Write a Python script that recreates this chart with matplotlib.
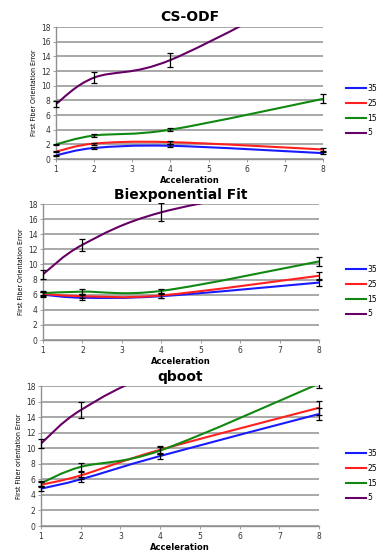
import numpy as np
import matplotlib
matplotlib.use('Agg')
import matplotlib.pyplot as plt
from matplotlib.path import Path
from matplotlib.patches import PathPatch, Rectangle
from matplotlib.lines import Line2D

accel = [1, 2, 4, 8]
snr_labels = ['35', '25', '15', '5']
colors = ['#1a1aff', '#ff2020', '#118811', '#660066']

titles = ['CS-ODF', 'Biexponential Fit', 'qboot']
ylabels = ['First Fiber Orientation Error', 'First Fiber Orientation Error',
           'First Fiber orientation Error']

# mean error per SNR (rows) at each acceleration
csodf = [[0.5, 1.5, 1.8, 0.8],
         [1.0, 2.1, 2.3, 1.3],
         [2.0, 3.2, 4.0, 8.2],
         [7.5, 11.1, 13.5, 24.0]]
csodf_err = [[0.1, 0.15, 0.2, 0.1],
             [0.1, 0.15, 0.2, 0.15],
             [0.1, 0.15, 0.2, 0.6],
             [0.4, 0.8, 1.0, 1.0]]

biexp = [[6.0, 5.6, 5.8, 7.6],
         [6.1, 5.8, 5.9, 8.5],
         [6.2, 6.4, 6.5, 10.4],
         [8.7, 12.6, 16.9, 21.0]]
biexp_err = [[0.3, 0.3, 0.3, 0.5],
             [0.3, 0.3, 0.3, 0.5],
             [0.3, 0.3, 0.3, 0.6],
             [0.6, 0.8, 1.2, 1.0]]

qboot = [[4.8, 6.0, 9.0, 14.4],
         [5.3, 6.5, 9.8, 15.2],
         [5.5, 7.6, 9.7, 18.3],
         [10.6, 14.9, 19.8, 25.0]]
qboot_err = [[0.3, 0.3, 0.4, 0.8],
             [0.3, 0.4, 0.5, 0.9],
             [0.3, 0.5, 0.5, 0.6],
             [0.6, 1.0, 1.0, 1.0]]

datasets = [(csodf, csodf_err), (biexp, biexp_err), (qboot, qboot_err)]

# axes rectangles in pixels: left, top, right, bottom
W, H = 383, 552
boxes = [(56, 27, 323, 159), (43, 204, 319, 340), (41, 386, 319, 526)]
title_y = [17, 195, 377]
leg_y = [88, 269, 453]


def smooth_path(xs, ys):
    # excel-style smoothed line as cubic bezier segments
    pts = np.column_stack([xs, ys]).astype(float)
    n = len(pts)
    verts = [pts[0]]
    codes = [Path.MOVETO]
    for i in range(n - 1):
        p0 = pts[i - 1] if i > 0 else pts[i]
        p1 = pts[i]
        p2 = pts[i + 1]
        p3 = pts[i + 2] if i + 2 < n else pts[i + 1]
        c1 = p1 + (p2 - p0) / 6.0
        c2 = p2 - (p3 - p1) / 6.0
        verts += [c1, c2, p2]
        codes += [Path.CURVE4] * 3
    return Path(verts, codes)


fig = plt.figure(figsize=(W / 100, H / 100), dpi=100)

for k, (vals, errs) in enumerate(datasets):
    l, t, r, b = boxes[k]
    ax = fig.add_axes([l / W, 1 - b / H, (r - l) / W, (b - t) / H])
    ax.set_xlim(1, 8)
    ax.set_ylim(0, 18)
    ax.set_xticks(range(1, 9))
    ax.set_yticks(range(0, 19, 2))
    ax.grid(axis='y', color='#a8a8a8', lw=1.4)
    ax.set_axisbelow(True)
    for s in ['top', 'right']:
        ax.spines[s].set_visible(False)
    for s in ['left', 'bottom']:
        ax.spines[s].set_color('#909090')
        ax.spines[s].set_linewidth(1.0)
    ax.tick_params(labelsize=5.5, length=2, width=0.6, color='#909090', pad=2,
                   labelcolor='#333333')

    # let error bars at the x edges show, but cut them above the top
    clip = Rectangle((-0.05, -0.05), 1.1, 1.06, transform=ax.transAxes,
                     fill=False, visible=False)
    ax.add_patch(clip)

    for j in range(4):
        patch = PathPatch(smooth_path(accel, vals[j]), facecolor='none',
                          edgecolor=colors[j], lw=1.5, zorder=3)
        ax.add_patch(patch)
        eb = ax.errorbar(accel, vals[j], yerr=errs[j], fmt='none', ecolor='black',
                         elinewidth=0.9, capsize=2.5, capthick=0.9, zorder=4)
        for art in eb.lines[1] + eb.lines[2]:
            art.set_clip_path(clip)

    ax.set_xlabel('Acceleration', fontsize=6, fontweight='bold', labelpad=2)
    ax.set_ylabel(ylabels[k], fontsize=5, labelpad=3, fontstretch='condensed')
    fig.text((l + r) / 2 / W, 1 - title_y[k] / H, titles[k], ha='center',
             va='center', fontsize=10, fontweight='bold')

    handles = [Line2D([0], [0], color=c, lw=1.5) for c in colors]
    fig.legend(handles, snr_labels, loc='upper left',
               bbox_to_anchor=(343 / W, 1 - (leg_y[k] - 7) / H),
               frameon=False, fontsize=5.5, handlelength=2.6,
               handletextpad=0.2, labelspacing=0.75, borderaxespad=0)

fig.savefig('out.png', dpi=100)
